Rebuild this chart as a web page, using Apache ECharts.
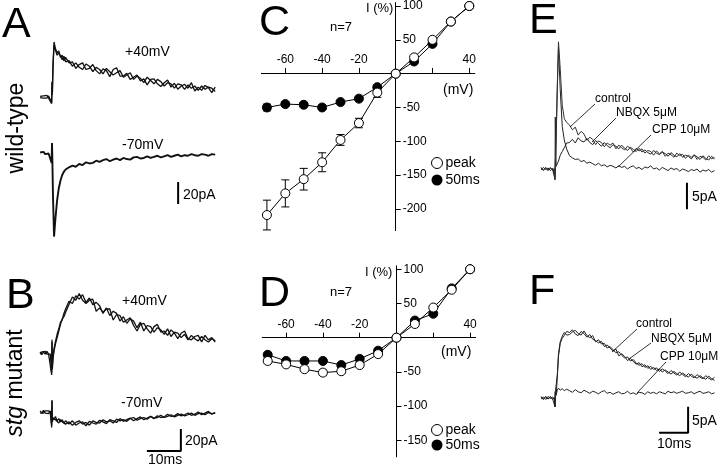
<!DOCTYPE html>
<html><head><meta charset="utf-8">
<script src="https://cdn.jsdelivr.net/npm/echarts@6/dist/echarts.min.js"></script>
<style>html,body{margin:0;padding:0;background:#fff}#c{width:720px;height:468px}</style>
</head><body><div id="c"></div>
<script>
// ---------- I-V data (panels C, D) ----------
const ivVoltage = [-70,-60,-50,-40,-30,-20,-10,0,10,20,30,40];
const ivPeakWT = [-209,-177,-156,-131,-98,-73,-28,0,24,50,77,100];
const ivPeakWTErr = [22,20,16,14,8,7,7,0,0,0,0,0];
const iv50msWT = [-50,-45,-46,-50,-42,-37,-20,0,18,44,77,100];
const iv50msWTErr = [5,3,3,3,2,2,2,0,0,0,0,0];
const ivPeakStg = [-34,-39,-46,-51,-49,-40,-24,0,20,44,70,100];
const ivPeakStgErr = [3,3,3,4,3,3,2,0,0,0,0,0];
const iv50msStg = [-25,-34,-34,-34,-40,-31,-19,0,25,35,72,100];
const iv50msStgErr = [3,3,3,3,3,2,2,0,0,0,0,0];
const ivXTicks = [-60,-40,-20,20,40];
const ivXLabels = [-60,-40,-20,40];
const ivYTicksWT = [100,50,-50,-100,-150,-200];
const ivYTicksStg = [100,50,-50,-100,-150];

// ---------- traces A, B (ms, pA), two sweeps each ----------
const T_AB = [-3.5,-3,-2.5,-2,-1.5,-1,-0.5,-0.1,0,0.1,0.3,0.6,1,1.5,2,2.5,3,3.5,4,5,6,7,8,9,10,11,12,13,14,15,16,17,18,19,20,21,22,23,24,25,26,27,28,29,30,31,32,33,34,35,36,37,38,39,40,41,42,43,44,45,46,47,48];
const wt40 = [0.5,-1,1,-0.5,1.5,-1,0.5, -6,14,2,30,50,44,40,42,36,38,33,36, 31,
 32,26,29.5,31,25,26,29.5,24,21,25.5,24,18.5,25,26.5,19,19,21.5,16,18,20,14.5,16.5,11,16,16.5,12,9.5,13,15.5,9,12.5,7,10,11.5,8,13,5.5,9,6,10.5,8.5,4,9];
const wt40b = [-0.5,1,-1,0.5,-1,1,-0.5, -5,13,3,28,47,46,38,40,39,34,37,32,
 33,28,31,27,25,30,28,23,27,25,21,26,23,20,22,24,18,20,22,16,19,17,13,18,15,12,16,14,10,13,12,8,12,11,7,11,8,10,6,10,7,9,8,5];
const wt70 = [0.5,-0.5,1,-1,0.5,-0.5,0.5, -9,9,-5,-40,-76,-60,-43,-32,-25,-20,-17,-15,
 -13,-11.5,-12.5,-10,-11,-8.5,-9.5,-9,-7,-8,-6.5,-5.5,-7.5,-6,-5,-6.5,-4.5,-5.5,-6,-4,-3.5,-5,-4.5,-3,-4.5,-3.5,-2.5,-4,-3,-2,-3.5,-2.5,-1.5,-3,-2,-2.5,-1,-2,-2.5,-1,-1.5,-2.5,-1,-1.5];
const stg40 = [1,-1.5,1,-1,1.5,-1,0.5, -20,12,-15,-5,2,8,14,20,26,31,33,37,
 44,51,48,54,48,45,48,49,38,41,37,40,40,30,35,34,28,30,32,25,20,26,27,22,18,24,26,19,20,16,21,18,13,18,20,13,12,15,16,10,16,12,14,10];
const stg40b = [-1,1,-0.5,1.5,-1,0.5,-1, -18,10,-12,-3,4,10,17,22,28,30,36,40,
 47,45,52,49,53,46,50,44,46,43,36,41,34,38,36,29,33,27,31,29,23,28,20,25,24,19,23,21,17,22,15,19,18,14,17,12,16,13,11,15,12,10,13,11];
const stg70 = [1,-1,1.5,-1,0.5,-1.5,1, -14,11,-8,-5,-7,-4,-8,-6,-9,-7,-10,-8,
 -11,-8,-12,-10,-9,-12.5,-8.5,-10,-11,-7.5,-9,-10.5,-7,-8,-9.5,-6,-8.5,-7,-5.5,-8,-6,-4.5,-7,-5.5,-4,-6,-3.5,-5,-4.5,-2,-4,-3.5,-1.5,-3.5,-2.5,-1,-3,-2,0,-2.5,-1,0.5,-2,-0.5];
const stg70b = [-1,0.5,-1,1,-0.5,1,-1, -12,10,-9,-6,-5,-7,-6,-10,-7,-9,-8,-11,
 -9,-12,-9.5,-8,-11,-9.5,-12,-8,-9.5,-10,-7,-9,-8,-10,-6.5,-8,-7,-8.5,-6,-5,-7.5,-6,-5,-6.5,-4,-5.5,-5,-3,-5,-4,-2.5,-4.5,-3,-2,-3.5,-2.5,-1,-3,-1.5,-1,-2.5,-0.5,-1.5,-1];
const scaleAB_ms = 10, scaleAB_pA = 20;

// ---------- traces E, F (ms, pA) ----------
const T_EF = [-4.8,-4,-3.2,-2.4,-1.6,-0.8,-0.2,0,0.1,0.4,0.8,1.2,1.8,2.5,3.2,4,5,6,7,8,9,10,11,12,13,14,15,16,17,18,19,20,21,22,23,24,25,26,27,28,29,30,31,32,33,34,35,36,37,38,39,40,41,42,43,44,45,46,47,48,49,50,51,52,53,54,55];
const eControl = [0.2,-0.3,0.3,-0.2,0.3,-0.3,0.1, -2,0.8,6,16,24,19,12,9.5,8.8,
 8.3,7.4,7.9,6.4,7.1,6.6,5.4,6.0,5.6,4.6,5.3,5.0,4.2,4.9,4.5,4.9,3.8,4.5,4.0,3.6,4.3,3.9,3.2,3.9,3.4,3.8,3.0,3.5,3.3,2.6,3.4,2.9,3.3,2.4,3.0,2.7,2.2,3.0,2.5,2.8,2.0,2.6,2.2,2.7,1.8,2.4,2.2,1.7,2.5,1.9,2.2];
const eNBQX = [-0.2,0.3,-0.1,0.2,-0.3,0.2,-0.1, -1.5,9.8,0.5,0.8,1.5,2.6,3.3,4,4.9,
 5.0,5.6,4.9,5.9,5.3,5.1,5.8,5.0,4.6,5.4,4.8,4.3,5.0,4.4,4.0,4.6,4.3,3.8,4.5,3.9,3.5,4.1,3.7,3.3,3.9,3.2,3.6,3.1,2.8,3.5,3.0,2.7,3.2,2.9,2.4,3.1,2.6,2.3,2.9,2.2,2.6,2.4,1.9,2.6,2.3,1.8,2.5,2.0,1.7,2.4,1.9];
const eCPP = [0.3,-0.2,0.2,-0.3,0.2,-0.1,0.2, -2,0.8,6,15,23,15,8,5.5,3.8,
 2.5,2.1,1.8,1.9,1.4,1.6,1.1,1.3,1.0,0.7,1.1,0.6,0.8,0.4,0.7,0.5,0.2,0.6,0.3,0.5,0.0,0.4,0.6,0.1,0.3,-0.1,0.4,0.2,0.6,0.0,0.2,-0.2,0.3,0.0,-0.3,0.2,-0.1,0.1,-0.4,0.0,-0.2,-0.5,-0.1,-0.3,0.0,-0.6,-0.2,-0.4,-0.1,-0.6,-0.3];
const fControl = [0.2,-0.3,0.3,-0.2,0.2,-0.3,0.1, -1.7,1.2,0.5,4,8,10.5,11.5,12,12.8,
 12.6,13.1,12.3,12.0,12.8,12.4,11.7,12.2,11.3,11.0,10.6,10.9,9.9,10.2,9.6,9.0,9.4,8.1,8.5,8.0,7.2,7.6,7.0,6.5,6.8,6.0,6.4,5.7,6.1,5.5,5.8,5.1,5.6,5.2,4.7,5.3,4.8,4.4,5.0,4.5,4.1,4.7,4.2,3.9,4.5,4.0,3.7,4.3,3.8,3.5,4.0];
const fNBQX = [-0.2,0.2,-0.3,0.3,-0.1,0.2,-0.2, -1.5,1.0,0.8,4.5,8.5,10.8,11.9,12.6,12.1,
 12.2,12.7,13.0,12.4,12.1,12.9,12.0,11.6,12.0,10.8,11.2,10.4,10.5,9.6,9.9,9.3,8.7,8.9,8.2,7.7,7.9,7.1,7.4,6.7,6.3,6.6,5.9,6.2,5.5,5.9,5.3,5.6,5.0,5.4,5.0,4.6,5.1,4.7,4.3,4.8,4.4,4.0,4.6,4.1,3.8,4.3,3.9,3.6,4.2,3.7,3.4];
const fCPP = [0.3,-0.2,0.2,-0.2,0.3,-0.2,0.1, -1.7,1.2,0.6,1.5,1.9,1.5,1.8,1.4,1.7,
 1.4,1.1,1.6,1.2,1.0,1.5,1.2,0.9,1.3,1.1,0.8,1.2,1.4,0.9,1.1,0.7,1.0,1.2,0.8,0.9,1.3,0.8,1.0,0.7,1.1,1.0,0.7,1.2,0.9,1.1,0.8,1.2,1.0,0.8,1.3,1.0,1.2,0.9,1.1,1.3,0.9,1.0,1.2,0.8,1.1,1.3,0.9,1.0,1.2,0.8,1.0];
const scaleEF_ms = 10, scaleEF_pA = 5;

// ---------- layout helpers ----------
const FONT = '"Liberation Sans", Arial, Helvetica, sans-serif';
const grids = [], ranges = [];
function addTraceGrid(t0px, basePx, pxMs, pxPA, tMin, tMax, vMin, vMax) {
  grids.push({left: t0px + tMin * pxMs, width: (tMax - tMin) * pxMs,
              top: basePx - vMax * pxPA, height: (vMax - vMin) * pxPA});
  ranges.push({trace: true, x: [tMin, tMax], y: [vMin, vMax]});
}
addTraceGrid(52, 97, 3.4, 1.1, -3.5, 48, -10, 55);   // 0 A +40
addTraceGrid(52, 153, 3.4, 1.1, -3.5, 48, -80, 15);  // 1 A -70
addTraceGrid(52, 353, 3.4, 1.1, -3.5, 48, -22, 55);  // 2 B +40
addTraceGrid(52, 412, 3.4, 1.1, -3.5, 48, -40, 15);  // 3 B -70
grids.push({left: 261.4, top: 1.6, width: 213.4, height: 229});
ranges.push({trace: false, x: [-73, 43], y: [-232, 105], ticks: ivYTicksWT});   // 4 C
grids.push({left: 262.2, top: 265.8, width: 213.4, height: 191});
ranges.push({trace: false, x: [-73, 43], y: [-174, 105], ticks: ivYTicksStg});  // 5 D
addTraceGrid(555, 169, 2.9, 5.3, -5, 56, -8, 25);    // 6 E
addTraceGrid(555, 398, 2.9, 5.2, -5, 56, -8, 14);    // 7 F

const xAxes = [], yAxes = [];
grids.forEach((g, i) => {
  const r = ranges[i];
  if (r.trace) {
    xAxes.push({type: 'value', gridIndex: i, min: r.x[0], max: r.x[1], show: false});
    yAxes.push({type: 'value', gridIndex: i, min: r.y[0], max: r.y[1], show: false});
  } else {
    // place the axes through the origin (0,0) of this grid
    const zeroY = g.top + (r.y[1] / (r.y[1] - r.y[0])) * g.height;
    const zeroX = g.left + (-r.x[0] / (r.x[1] - r.x[0])) * g.width;
    xAxes.push({type: 'value', gridIndex: i, min: r.x[0], max: r.x[1], position: 'bottom',
      offset: -(g.top + g.height - zeroY),
      axisLine: {onZero: false, lineStyle: {color: '#000', width: 1}},
      axisTick: {inside: true, length: 5, customValues: ivXTicks, lineStyle: {color: '#000'}},
      axisLabel: {inside: true, margin: 7, customValues: ivXLabels, color: '#000', fontSize: 12, fontFamily: FONT},
      splitLine: {show: false}});
    yAxes.push({type: 'value', gridIndex: i, min: r.y[0], max: r.y[1], position: 'left',
      offset: -(zeroX - g.left),
      axisLine: {onZero: false, lineStyle: {color: '#000', width: 1}},
      axisTick: {inside: true, length: 5, customValues: r.ticks, lineStyle: {color: '#000'}},
      axisLabel: {inside: true, margin: 7, customValues: r.ticks, color: '#000', fontSize: 12, fontFamily: FONT},
      splitLine: {show: false}});
  }
});

const series = [];
function trace(gi, T, vals, width, color) {
  series.push({type: 'line', xAxisIndex: gi, yAxisIndex: gi, data: T.map((t, k) => [t, vals[k]]),
    symbol: 'none', clip: false, silent: true, lineStyle: {color: color || '#111', width: width}});
}
function bar(gi, pts) {
  series.push({type: 'line', xAxisIndex: gi, yAxisIndex: gi, data: pts, symbol: 'none', clip: false,
    silent: true, lineStyle: {color: '#000', width: 2}});
}
trace(0, T_AB, wt40, 1.3);
trace(0, T_AB, wt40b, 1.3);
trace(1, T_AB, wt70, 1.9);
trace(2, T_AB, stg40, 1.3);
trace(2, T_AB, stg40b, 1.3);
trace(3, T_AB, stg70, 1.3);
trace(3, T_AB, stg70b, 1.3);
trace(6, T_EF, eNBQX, 1, '#222');
trace(6, T_EF, eCPP, 1, '#222');
trace(6, T_EF, eControl, 1, '#333');
trace(7, T_EF, fNBQX, 1, '#222');
trace(7, T_EF, fCPP, 1, '#222');
trace(7, T_EF, fControl, 1, '#222');
// scale bars
bar(1, [[37.1, -26.4 - scaleAB_pA], [37.1, -26.4]]);
bar(3, [[37.9 - scaleAB_ms, -35.5], [37.9, -35.5], [37.9, -35.5 + scaleAB_pA]]);
bar(6, [[45.5, -2.6 - scaleEF_pA], [45.5, -2.6]]);
bar(7, [[45.9 - scaleEF_ms, -6.7], [45.9, -6.7], [45.9, -6.7 + scaleEF_pA]]);

function errItem(params, api) {
  const x = api.value(0), y = api.value(1), e = api.value(2);
  if (!e) return null;
  const a = api.coord([x, y + e]), b = api.coord([x, y - e]);
  const c = 4;
  const st = {stroke: '#000', lineWidth: 1};
  return {type: 'group', children: [
    {type: 'line', shape: {x1: a[0], y1: a[1], x2: b[0], y2: b[1]}, style: st},
    {type: 'line', shape: {x1: a[0] - c, y1: a[1], x2: a[0] + c, y2: a[1]}, style: st},
    {type: 'line', shape: {x1: b[0] - c, y1: b[1], x2: b[0] + c, y2: b[1]}, style: st}
  ]};
}
function ivSet(gi, peak, peakErr, m50, m50Err) {
  series.push({type: 'custom', xAxisIndex: gi, yAxisIndex: gi, renderItem: errItem, z: 1, silent: true,
    encode: {x: 0, y: 1}, data: ivVoltage.map((v, k) => [v, peak[k], peakErr[k]])});
  series.push({type: 'custom', xAxisIndex: gi, yAxisIndex: gi, renderItem: errItem, z: 1, silent: true,
    encode: {x: 0, y: 1}, data: ivVoltage.map((v, k) => [v, m50[k], m50Err[k]])});
  series.push({name: '50ms', type: 'line', xAxisIndex: gi, yAxisIndex: gi, z: 2, symbol: 'circle', symbolSize: 9,
    data: ivVoltage.map((v, k) => [v, m50[k]]), lineStyle: {color: '#000', width: 1},
    itemStyle: {color: '#000', borderColor: '#000', borderWidth: 1}});
  series.push({name: 'peak', type: 'line', xAxisIndex: gi, yAxisIndex: gi, z: 3, symbol: 'circle', symbolSize: 9,
    data: ivVoltage.map((v, k) => [v, peak[k]]), lineStyle: {color: '#000', width: 1},
    itemStyle: {color: '#fff', borderColor: '#000', borderWidth: 1}});
}
ivSet(4, ivPeakWT, ivPeakWTErr, iv50msWT, iv50msWTErr);
ivSet(5, ivPeakStg, ivPeakStgErr, iv50msStg, iv50msStgErr);

function legendAt(top, gap) {
  return {orient: 'vertical', left: 426, top: top, itemWidth: 11, itemHeight: 11, itemGap: gap,
    selectedMode: false, textStyle: {fontSize: 14, color: '#000', fontFamily: FONT, padding: [0, 0, 0, -2]},
    data: [{name: 'peak', icon: 'circle', itemStyle: {color: '#fff', borderColor: '#000', borderWidth: 1}},
           {name: '50ms', icon: 'circle', itemStyle: {color: '#000', borderWidth: 0}}]};
}

const G = [];
function txt(s, x, y, size, opt) {
  opt = opt || {};
  G.push({type: 'text', x: x, y: y, rotation: opt.rot || 0, z: 10,
    style: Object.assign({text: s, fontSize: size, fontFamily: FONT, fill: '#000',
      align: opt.align || 'left', verticalAlign: 'middle'}, opt.style || {})});
}
function ln(x1, y1, x2, y2) {
  G.push({type: 'line', z: 10, shape: {x1, y1, x2, y2}, style: {stroke: '#000', lineWidth: 0.8}});
}
// panel letters
txt('A', 2, 25, 43); txt('B', 6, 296, 43); txt('C', 259, 23, 43);
txt('D', 259, 294, 43); txt('E', 529, 21, 43); txt('F', 529, 292, 43);
// side labels
txt('wild-type', 17, 128, 23, {rot: Math.PI / 2, align: 'center'});
txt('{i|stg} mutant', 16, 383, 23, {rot: Math.PI / 2, align: 'center',
  style: {rich: {i: {fontStyle: 'italic', fontSize: 23, fontFamily: FONT}}}});
// A / B labels
txt('+40mV', 125, 52, 14); txt('-70mV', 122, 145, 14);
txt('+40mV', 122, 301, 14); txt('-70mV', 121, 403, 14);
txt('20pA', 183, 195, 14); txt('20pA', 185, 441, 14); txt('10ms', 148, 460, 14);
// C / D labels
txt('n=7', 330, 27, 13); txt('n=7', 330, 292, 13);
txt('I (%)', 366, 8, 13); txt('I (%)', 365, 272, 13);
txt('(mV)', 443, 90, 14); txt('(mV)', 441, 352, 14);
// E / F labels
txt('control', 595, 99, 12); txt('NBQX 5\u03bcM', 616, 113, 12); txt('CPP 10\u03bcM', 652, 130, 12);
txt('control', 636, 324, 12); txt('NBQX 5\u03bcM', 651, 339, 12); txt('CPP 10\u03bcM', 660, 357, 12);
txt('5pA', 692, 197, 14); txt('5pA', 692, 421, 14); txt('10ms', 657, 444, 14);
ln(595, 104, 570, 127); ln(616, 118, 592, 142); ln(651, 135, 618, 167);
ln(637, 329, 612, 352); ln(651, 343, 629, 359); ln(666, 362, 637, 393);

const chart = echarts.init(document.getElementById('c'), null, {renderer: 'canvas'});
chart.setOption({
  animation: false,
  backgroundColor: '#fff',
  textStyle: {fontFamily: FONT},
  grid: grids,
  xAxis: xAxes,
  yAxis: yAxes,
  legend: [legendAt(151, 3), legendAt(418, 1)],
  series: series,
  graphic: G
});
</script></body></html>
